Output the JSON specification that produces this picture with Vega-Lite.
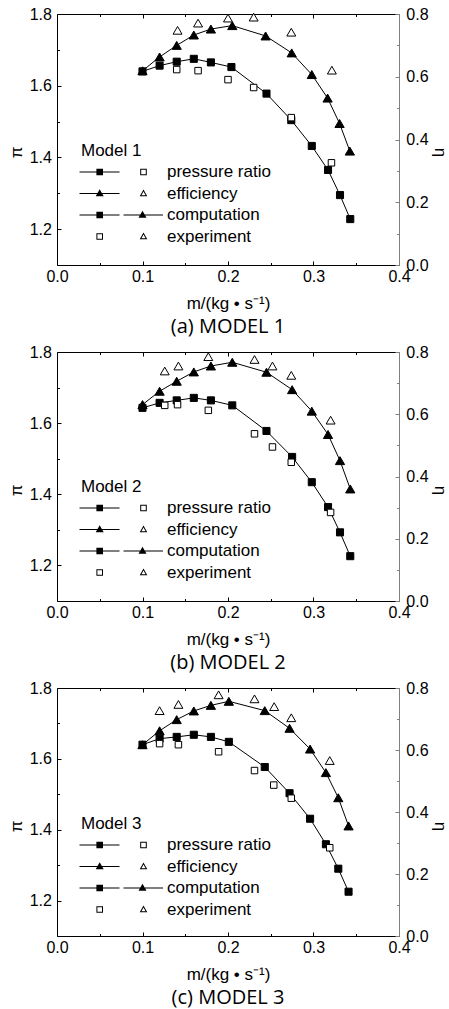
{
  "$schema": "https://vega.github.io/schema/vega-lite/v6.json",
  "background": "white",
  "padding": {"left": 7, "top": 6, "right": 0, "bottom": 0},
  "spacing": 87,
  "bounds": "flush",
  "resolve": {"scale": {"shape": "independent"}, "legend": {"shape": "independent"}},
  "config": {
    "view": {"stroke": null},
    "font": "Liberation Sans",
    "axis": {"labelFont": "Liberation Sans", "labelFontSize": 16, "labelColor": "black", "titleFont": "Liberation Sans", "titleFontSize": 17, "titleFontWeight": "normal", "titleColor": "black", "domainColor": "black", "tickColor": "black", "grid": false, "domainWidth": 1, "tickWidth": 1, "labelFlush": false, "labelOverlap": false},
    "legend": {"orient": "none", "padding": 0, "titleFont": "Liberation Sans", "titleFontSize": 17, "titleFontWeight": "normal", "titleColor": "black", "titlePadding": 2, "labelFont": "Liberation Sans", "labelFontSize": 17, "labelColor": "black", "labelOffset": 66, "symbolSize": 400, "symbolStrokeWidth": 0, "symbolFillColor": "black", "symbolOpacity": 1, "rowPadding": 3.5},
    "title": {"font": "Open Sans", "fontSize": 20, "fontWeight": "normal", "color": "black", "orient": "bottom", "anchor": "middle", "frame": "group", "offset": 5}
  },
  "datasets": {
    "pts": [
      {"model": "Model 1", "q": "pi", "src": "comp", "m": 0.1, "v": 1.640},
      {"model": "Model 1", "q": "pi", "src": "comp", "m": 0.12, "v": 1.656},
      {"model": "Model 1", "q": "pi", "src": "comp", "m": 0.14, "v": 1.667},
      {"model": "Model 1", "q": "pi", "src": "comp", "m": 0.16, "v": 1.675},
      {"model": "Model 1", "q": "pi", "src": "comp", "m": 0.18, "v": 1.665},
      {"model": "Model 1", "q": "pi", "src": "comp", "m": 0.204, "v": 1.652},
      {"model": "Model 1", "q": "pi", "src": "comp", "m": 0.245, "v": 1.578},
      {"model": "Model 1", "q": "pi", "src": "comp", "m": 0.274, "v": 1.504},
      {"model": "Model 1", "q": "pi", "src": "comp", "m": 0.298, "v": 1.432},
      {"model": "Model 1", "q": "pi", "src": "comp", "m": 0.317, "v": 1.365},
      {"model": "Model 1", "q": "pi", "src": "comp", "m": 0.331, "v": 1.295},
      {"model": "Model 1", "q": "pi", "src": "comp", "m": 0.343, "v": 1.228},
      {"model": "Model 1", "q": "eta", "src": "comp", "m": 0.1, "v": 0.619},
      {"model": "Model 1", "q": "eta", "src": "comp", "m": 0.12, "v": 0.663},
      {"model": "Model 1", "q": "eta", "src": "comp", "m": 0.14, "v": 0.700},
      {"model": "Model 1", "q": "eta", "src": "comp", "m": 0.16, "v": 0.733},
      {"model": "Model 1", "q": "eta", "src": "comp", "m": 0.18, "v": 0.752},
      {"model": "Model 1", "q": "eta", "src": "comp", "m": 0.205, "v": 0.763},
      {"model": "Model 1", "q": "eta", "src": "comp", "m": 0.244, "v": 0.730},
      {"model": "Model 1", "q": "eta", "src": "comp", "m": 0.2745, "v": 0.676},
      {"model": "Model 1", "q": "eta", "src": "comp", "m": 0.298, "v": 0.607},
      {"model": "Model 1", "q": "eta", "src": "comp", "m": 0.3165, "v": 0.532},
      {"model": "Model 1", "q": "eta", "src": "comp", "m": 0.3305, "v": 0.451},
      {"model": "Model 1", "q": "eta", "src": "comp", "m": 0.3425, "v": 0.363},
      {"model": "Model 1", "q": "pi", "src": "exp", "m": 0.14, "v": 1.645},
      {"model": "Model 1", "q": "pi", "src": "exp", "m": 0.165, "v": 1.642},
      {"model": "Model 1", "q": "pi", "src": "exp", "m": 0.2, "v": 1.617},
      {"model": "Model 1", "q": "pi", "src": "exp", "m": 0.23, "v": 1.595},
      {"model": "Model 1", "q": "pi", "src": "exp", "m": 0.274, "v": 1.511},
      {"model": "Model 1", "q": "pi", "src": "exp", "m": 0.321, "v": 1.385},
      {"model": "Model 1", "q": "eta", "src": "exp", "m": 0.141, "v": 0.748},
      {"model": "Model 1", "q": "eta", "src": "exp", "m": 0.165, "v": 0.771},
      {"model": "Model 1", "q": "eta", "src": "exp", "m": 0.2, "v": 0.787},
      {"model": "Model 1", "q": "eta", "src": "exp", "m": 0.23, "v": 0.790},
      {"model": "Model 1", "q": "eta", "src": "exp", "m": 0.274, "v": 0.742},
      {"model": "Model 1", "q": "eta", "src": "exp", "m": 0.3215, "v": 0.621},
      {"model": "Model 2", "q": "pi", "src": "comp", "m": 0.1, "v": 1.643},
      {"model": "Model 2", "q": "pi", "src": "comp", "m": 0.12, "v": 1.657},
      {"model": "Model 2", "q": "pi", "src": "comp", "m": 0.14, "v": 1.664},
      {"model": "Model 2", "q": "pi", "src": "comp", "m": 0.16, "v": 1.671},
      {"model": "Model 2", "q": "pi", "src": "comp", "m": 0.18, "v": 1.664},
      {"model": "Model 2", "q": "pi", "src": "comp", "m": 0.205, "v": 1.650},
      {"model": "Model 2", "q": "pi", "src": "comp", "m": 0.245, "v": 1.578},
      {"model": "Model 2", "q": "pi", "src": "comp", "m": 0.275, "v": 1.505},
      {"model": "Model 2", "q": "pi", "src": "comp", "m": 0.298, "v": 1.434},
      {"model": "Model 2", "q": "pi", "src": "comp", "m": 0.317, "v": 1.364},
      {"model": "Model 2", "q": "pi", "src": "comp", "m": 0.331, "v": 1.293},
      {"model": "Model 2", "q": "pi", "src": "comp", "m": 0.343, "v": 1.226},
      {"model": "Model 2", "q": "eta", "src": "comp", "m": 0.1, "v": 0.631},
      {"model": "Model 2", "q": "eta", "src": "comp", "m": 0.12, "v": 0.674},
      {"model": "Model 2", "q": "eta", "src": "comp", "m": 0.14, "v": 0.706},
      {"model": "Model 2", "q": "eta", "src": "comp", "m": 0.16, "v": 0.736},
      {"model": "Model 2", "q": "eta", "src": "comp", "m": 0.18, "v": 0.755},
      {"model": "Model 2", "q": "eta", "src": "comp", "m": 0.205, "v": 0.767},
      {"model": "Model 2", "q": "eta", "src": "comp", "m": 0.245, "v": 0.735},
      {"model": "Model 2", "q": "eta", "src": "comp", "m": 0.275, "v": 0.679},
      {"model": "Model 2", "q": "eta", "src": "comp", "m": 0.298, "v": 0.610},
      {"model": "Model 2", "q": "eta", "src": "comp", "m": 0.317, "v": 0.535},
      {"model": "Model 2", "q": "eta", "src": "comp", "m": 0.331, "v": 0.451},
      {"model": "Model 2", "q": "eta", "src": "comp", "m": 0.343, "v": 0.360},
      {"model": "Model 2", "q": "pi", "src": "exp", "m": 0.126, "v": 1.650},
      {"model": "Model 2", "q": "pi", "src": "exp", "m": 0.141, "v": 1.652},
      {"model": "Model 2", "q": "pi", "src": "exp", "m": 0.177, "v": 1.636},
      {"model": "Model 2", "q": "pi", "src": "exp", "m": 0.231, "v": 1.570},
      {"model": "Model 2", "q": "pi", "src": "exp", "m": 0.252, "v": 1.533},
      {"model": "Model 2", "q": "pi", "src": "exp", "m": 0.274, "v": 1.490},
      {"model": "Model 2", "q": "pi", "src": "exp", "m": 0.320, "v": 1.349},
      {"model": "Model 2", "q": "eta", "src": "exp", "m": 0.126, "v": 0.739},
      {"model": "Model 2", "q": "eta", "src": "exp", "m": 0.142, "v": 0.755},
      {"model": "Model 2", "q": "eta", "src": "exp", "m": 0.177, "v": 0.785},
      {"model": "Model 2", "q": "eta", "src": "exp", "m": 0.231, "v": 0.776},
      {"model": "Model 2", "q": "eta", "src": "exp", "m": 0.252, "v": 0.755},
      {"model": "Model 2", "q": "eta", "src": "exp", "m": 0.274, "v": 0.725},
      {"model": "Model 2", "q": "eta", "src": "exp", "m": 0.320, "v": 0.581},
      {"model": "Model 3", "q": "pi", "src": "comp", "m": 0.1, "v": 1.640},
      {"model": "Model 3", "q": "pi", "src": "comp", "m": 0.12, "v": 1.657},
      {"model": "Model 3", "q": "pi", "src": "comp", "m": 0.14, "v": 1.662},
      {"model": "Model 3", "q": "pi", "src": "comp", "m": 0.16, "v": 1.668},
      {"model": "Model 3", "q": "pi", "src": "comp", "m": 0.18, "v": 1.662},
      {"model": "Model 3", "q": "pi", "src": "comp", "m": 0.201, "v": 1.648},
      {"model": "Model 3", "q": "pi", "src": "comp", "m": 0.243, "v": 1.577},
      {"model": "Model 3", "q": "pi", "src": "comp", "m": 0.272, "v": 1.503},
      {"model": "Model 3", "q": "pi", "src": "comp", "m": 0.296, "v": 1.431},
      {"model": "Model 3", "q": "pi", "src": "comp", "m": 0.3145, "v": 1.359},
      {"model": "Model 3", "q": "pi", "src": "comp", "m": 0.329, "v": 1.290},
      {"model": "Model 3", "q": "pi", "src": "comp", "m": 0.341, "v": 1.225},
      {"model": "Model 3", "q": "eta", "src": "comp", "m": 0.1, "v": 0.617},
      {"model": "Model 3", "q": "eta", "src": "comp", "m": 0.12, "v": 0.662},
      {"model": "Model 3", "q": "eta", "src": "comp", "m": 0.14, "v": 0.698},
      {"model": "Model 3", "q": "eta", "src": "comp", "m": 0.16, "v": 0.726},
      {"model": "Model 3", "q": "eta", "src": "comp", "m": 0.18, "v": 0.744},
      {"model": "Model 3", "q": "eta", "src": "comp", "m": 0.201, "v": 0.757},
      {"model": "Model 3", "q": "eta", "src": "comp", "m": 0.243, "v": 0.727},
      {"model": "Model 3", "q": "eta", "src": "comp", "m": 0.272, "v": 0.670},
      {"model": "Model 3", "q": "eta", "src": "comp", "m": 0.296, "v": 0.603},
      {"model": "Model 3", "q": "eta", "src": "comp", "m": 0.3145, "v": 0.527},
      {"model": "Model 3", "q": "eta", "src": "comp", "m": 0.329, "v": 0.446},
      {"model": "Model 3", "q": "eta", "src": "comp", "m": 0.341, "v": 0.355},
      {"model": "Model 3", "q": "pi", "src": "exp", "m": 0.12, "v": 1.643},
      {"model": "Model 3", "q": "pi", "src": "exp", "m": 0.142, "v": 1.640},
      {"model": "Model 3", "q": "pi", "src": "exp", "m": 0.189, "v": 1.620},
      {"model": "Model 3", "q": "pi", "src": "exp", "m": 0.231, "v": 1.567},
      {"model": "Model 3", "q": "pi", "src": "exp", "m": 0.2535, "v": 1.526},
      {"model": "Model 3", "q": "pi", "src": "exp", "m": 0.274, "v": 1.489},
      {"model": "Model 3", "q": "pi", "src": "exp", "m": 0.319, "v": 1.349},
      {"model": "Model 3", "q": "eta", "src": "exp", "m": 0.12, "v": 0.727},
      {"model": "Model 3", "q": "eta", "src": "exp", "m": 0.142, "v": 0.747},
      {"model": "Model 3", "q": "eta", "src": "exp", "m": 0.189, "v": 0.778},
      {"model": "Model 3", "q": "eta", "src": "exp", "m": 0.231, "v": 0.765},
      {"model": "Model 3", "q": "eta", "src": "exp", "m": 0.254, "v": 0.740},
      {"model": "Model 3", "q": "eta", "src": "exp", "m": 0.274, "v": 0.704},
      {"model": "Model 3", "q": "eta", "src": "exp", "m": 0.319, "v": 0.566}
    ]
  },
  "data": {"name": "pts"},
  "vconcat": [
    {
      "width": 342, "height": 251,
      "title": {"text": "(a) MODEL 1"},
      "transform": [{"filter": "datum.model == 'Model 1'"}],
      "resolve": {"scale": {"y": "independent"}, "axis": {"x": "independent", "y": "independent"}},
      "layer": [
        {"transform": [{"filter": "datum.q == 'pi' && datum.src == 'comp'"}],
         "mark": {"type": "line", "color": "black", "strokeWidth": 1, "point": {"shape": "square", "filled": true, "size": 50, "fill": "black", "stroke": "black", "strokeWidth": 1, "opacity": 1}},
         "encoding": {
           "x": {"field": "m", "type": "quantitative", "scale": {"domain": [0, 0.4], "nice": false, "zero": false}, "axis": {"orient": "bottom", "values": [0, 0.1, 0.2, 0.3, 0.4], "format": ".1f", "tickSize": -4, "labelPadding": 7.5, "title": "m/(kg • s⁻¹)", "titlePadding": 11}},
           "y": {"field": "v", "type": "quantitative", "scale": {"domain": [1.1, 1.8], "nice": false, "zero": false}, "axis": {"orient": "left", "values": [1.2, 1.4, 1.6, 1.8], "format": ".1f", "tickSize": -4, "labelPadding": 9.6, "title": "π", "titlePadding": 3.5, "titleY": 138}}
         }},
        {"transform": [{"filter": "datum.q == 'eta' && datum.src == 'comp'"}],
         "mark": {"type": "line", "color": "black", "strokeWidth": 1, "point": {"shape": "triangle-up", "filled": true, "size": 85, "fill": "black", "stroke": "black", "strokeWidth": 1, "opacity": 1}},
         "encoding": {
           "x": {"field": "m", "type": "quantitative", "scale": {"domain": [0, 0.4], "nice": false, "zero": false}, "axis": {"orient": "top", "values": [0.1, 0.2, 0.3], "labels": false, "tickSize": -4, "title": null}},
           "y": {"field": "v", "type": "quantitative", "scale": {"domain": [0, 0.8], "nice": false, "zero": false}, "axis": {"orient": "right", "values": [0, 0.2, 0.4, 0.6, 0.8], "format": ".1f", "tickSize": -4, "labelPadding": 10.8, "domainColor": "#808080", "tickColor": "#808080", "title": "η", "titlePadding": 2, "titleY": 138}}
         }},
        {"transform": [{"filter": "datum.q == 'pi' && datum.src == 'exp'"}],
         "mark": {"type": "point", "shape": "square", "filled": true, "size": 42, "fill": "white", "stroke": "black", "strokeWidth": 1, "opacity": 1},
         "encoding": {
           "x": {"field": "m", "type": "quantitative", "scale": {"domain": [0, 0.4], "nice": false, "zero": false}, "axis": {"orient": "bottom", "values": [0.05, 0.15, 0.25, 0.35], "labels": false, "domain": false, "tickSize": -2.5, "title": null}},
           "y": {"field": "v", "type": "quantitative", "scale": {"domain": [1.1, 1.8], "nice": false, "zero": false}, "axis": {"orient": "left", "values": [1.3, 1.5, 1.7], "labels": false, "domain": false, "tickSize": -2.5, "title": null}}
         }},
        {"transform": [{"filter": "datum.q == 'eta' && datum.src == 'exp'"}],
         "mark": {"type": "point", "shape": "triangle-up", "filled": true, "size": 80, "fill": "white", "stroke": "black", "strokeWidth": 1, "opacity": 1},
         "encoding": {
           "x": {"field": "m", "type": "quantitative", "scale": {"domain": [0, 0.4], "nice": false, "zero": false}, "axis": {"orient": "top", "values": [0.05, 0.15, 0.25, 0.35], "labels": false, "domain": false, "tickSize": -2.5, "title": null}},
           "y": {"field": "v", "type": "quantitative", "scale": {"domain": [0, 0.8], "nice": false, "zero": false}, "axis": {"orient": "right", "values": [0.1, 0.3, 0.5, 0.7], "labels": false, "domain": false, "tickSize": -2.5, "tickColor": "#808080", "title": null}}
         }},
        {"transform": [{"filter": "false"}],
         "mark": {"type": "point", "filled": true, "fill": "black", "strokeWidth": 0, "opacity": 1},
         "encoding": {
           "shape": {"field": "q", "type": "nominal",
             "scale": {"domain": ["pressure ratio", "efficiency", "computation", "experiment"],
               "range": [
                 "M -1.15 -0.05 L 2.85 -0.05 L 2.85 0.05 L -1.15 0.05 Z M 0.54 -0.33 L 1.2 -0.33 L 1.2 0.33 L 0.54 0.33 Z M 4.92 -0.33 L 5.58 -0.33 L 5.58 0.33 L 4.92 0.33 Z M 5.02 -0.23 L 5.02 0.23 L 5.48 0.23 L 5.48 -0.23 Z",
                 "M -1.15 -0.05 L 2.85 -0.05 L 2.85 0.05 L -1.15 0.05 Z M 0.87 -0.42 L 1.27 0.28 L 0.47 0.28 Z M 5.25 -0.4 L 5.63 0.27 L 4.87 0.27 Z M 5.25 -0.197 L 5.042 0.17 L 5.458 0.17 Z",
                 "M -1.15 -0.05 L 2.85 -0.05 L 2.85 0.05 L -1.15 0.05 Z M 0.54 -0.33 L 1.2 -0.33 L 1.2 0.33 L 0.54 0.33 Z M 3.25 -0.05 L 7.2 -0.05 L 7.2 0.05 L 3.25 0.05 Z M 5.15 -0.42 L 5.55 0.28 L 4.75 0.28 Z",
                 "M 0.54 -0.33 L 1.2 -0.33 L 1.2 0.33 L 0.54 0.33 Z M 0.64 -0.23 L 0.64 0.23 L 1.1 0.23 L 1.1 -0.23 Z M 5.25 -0.4 L 5.63 0.27 L 4.87 0.27 Z M 5.25 -0.197 L 5.042 0.17 L 5.458 0.17 Z"
               ]},
             "legend": {"title": "Model 1", "legendX": 24, "legendY": 129}}
         }}
      ]
    },
    {
      "width": 342, "height": 249,
      "title": {"text": "(b) MODEL 2"},
      "transform": [{"filter": "datum.model == 'Model 2'"}],
      "resolve": {"scale": {"y": "independent"}, "axis": {"x": "independent", "y": "independent"}},
      "layer": [
        {"transform": [{"filter": "datum.q == 'pi' && datum.src == 'comp'"}],
         "mark": {"type": "line", "color": "black", "strokeWidth": 1, "point": {"shape": "square", "filled": true, "size": 50, "fill": "black", "stroke": "black", "strokeWidth": 1, "opacity": 1}},
         "encoding": {
           "x": {"field": "m", "type": "quantitative", "scale": {"domain": [0, 0.4], "nice": false, "zero": false}, "axis": {"orient": "bottom", "values": [0, 0.1, 0.2, 0.3, 0.4], "format": ".1f", "tickSize": -4, "labelPadding": 7.5, "title": "m/(kg • s⁻¹)", "titlePadding": 11}},
           "y": {"field": "v", "type": "quantitative", "scale": {"domain": [1.1, 1.8], "nice": false, "zero": false}, "axis": {"orient": "left", "values": [1.2, 1.4, 1.6, 1.8], "format": ".1f", "tickSize": -4, "labelPadding": 9.6, "title": "π", "titlePadding": 3.5, "titleY": 138}}
         }},
        {"transform": [{"filter": "datum.q == 'eta' && datum.src == 'comp'"}],
         "mark": {"type": "line", "color": "black", "strokeWidth": 1, "point": {"shape": "triangle-up", "filled": true, "size": 85, "fill": "black", "stroke": "black", "strokeWidth": 1, "opacity": 1}},
         "encoding": {
           "x": {"field": "m", "type": "quantitative", "scale": {"domain": [0, 0.4], "nice": false, "zero": false}, "axis": {"orient": "top", "values": [0.1, 0.2, 0.3], "labels": false, "tickSize": -4, "title": null}},
           "y": {"field": "v", "type": "quantitative", "scale": {"domain": [0, 0.8], "nice": false, "zero": false}, "axis": {"orient": "right", "values": [0, 0.2, 0.4, 0.6, 0.8], "format": ".1f", "tickSize": -4, "labelPadding": 10.8, "domainColor": "#808080", "tickColor": "#808080", "title": "η", "titlePadding": 2, "titleY": 138}}
         }},
        {"transform": [{"filter": "datum.q == 'pi' && datum.src == 'exp'"}],
         "mark": {"type": "point", "shape": "square", "filled": true, "size": 42, "fill": "white", "stroke": "black", "strokeWidth": 1, "opacity": 1},
         "encoding": {
           "x": {"field": "m", "type": "quantitative", "scale": {"domain": [0, 0.4], "nice": false, "zero": false}, "axis": {"orient": "bottom", "values": [0.05, 0.15, 0.25, 0.35], "labels": false, "domain": false, "tickSize": -2.5, "title": null}},
           "y": {"field": "v", "type": "quantitative", "scale": {"domain": [1.1, 1.8], "nice": false, "zero": false}, "axis": {"orient": "left", "values": [1.3, 1.5, 1.7], "labels": false, "domain": false, "tickSize": -2.5, "title": null}}
         }},
        {"transform": [{"filter": "datum.q == 'eta' && datum.src == 'exp'"}],
         "mark": {"type": "point", "shape": "triangle-up", "filled": true, "size": 80, "fill": "white", "stroke": "black", "strokeWidth": 1, "opacity": 1},
         "encoding": {
           "x": {"field": "m", "type": "quantitative", "scale": {"domain": [0, 0.4], "nice": false, "zero": false}, "axis": {"orient": "top", "values": [0.05, 0.15, 0.25, 0.35], "labels": false, "domain": false, "tickSize": -2.5, "title": null}},
           "y": {"field": "v", "type": "quantitative", "scale": {"domain": [0, 0.8], "nice": false, "zero": false}, "axis": {"orient": "right", "values": [0.1, 0.3, 0.5, 0.7], "labels": false, "domain": false, "tickSize": -2.5, "tickColor": "#808080", "title": null}}
         }},
        {"transform": [{"filter": "false"}],
         "mark": {"type": "point", "filled": true, "fill": "black", "strokeWidth": 0, "opacity": 1},
         "encoding": {
           "shape": {"field": "q", "type": "nominal",
             "scale": {"domain": ["pressure ratio", "efficiency", "computation", "experiment"],
               "range": [
                 "M -1.15 -0.05 L 2.85 -0.05 L 2.85 0.05 L -1.15 0.05 Z M 0.54 -0.33 L 1.2 -0.33 L 1.2 0.33 L 0.54 0.33 Z M 4.92 -0.33 L 5.58 -0.33 L 5.58 0.33 L 4.92 0.33 Z M 5.02 -0.23 L 5.02 0.23 L 5.48 0.23 L 5.48 -0.23 Z",
                 "M -1.15 -0.05 L 2.85 -0.05 L 2.85 0.05 L -1.15 0.05 Z M 0.87 -0.42 L 1.27 0.28 L 0.47 0.28 Z M 5.25 -0.4 L 5.63 0.27 L 4.87 0.27 Z M 5.25 -0.197 L 5.042 0.17 L 5.458 0.17 Z",
                 "M -1.15 -0.05 L 2.85 -0.05 L 2.85 0.05 L -1.15 0.05 Z M 0.54 -0.33 L 1.2 -0.33 L 1.2 0.33 L 0.54 0.33 Z M 3.25 -0.05 L 7.2 -0.05 L 7.2 0.05 L 3.25 0.05 Z M 5.15 -0.42 L 5.55 0.28 L 4.75 0.28 Z",
                 "M 0.54 -0.33 L 1.2 -0.33 L 1.2 0.33 L 0.54 0.33 Z M 0.64 -0.23 L 0.64 0.23 L 1.1 0.23 L 1.1 -0.23 Z M 5.25 -0.4 L 5.63 0.27 L 4.87 0.27 Z M 5.25 -0.197 L 5.042 0.17 L 5.458 0.17 Z"
               ]},
             "legend": {"title": "Model 2", "legendX": 24, "legendY": 127}}
         }}
      ]
    },
    {
      "width": 342, "height": 248,
      "title": {"text": "(c) MODEL 3"},
      "transform": [{"filter": "datum.model == 'Model 3'"}],
      "resolve": {"scale": {"y": "independent"}, "axis": {"x": "independent", "y": "independent"}},
      "layer": [
        {"transform": [{"filter": "datum.q == 'pi' && datum.src == 'comp'"}],
         "mark": {"type": "line", "color": "black", "strokeWidth": 1, "point": {"shape": "square", "filled": true, "size": 50, "fill": "black", "stroke": "black", "strokeWidth": 1, "opacity": 1}},
         "encoding": {
           "x": {"field": "m", "type": "quantitative", "scale": {"domain": [0, 0.4], "nice": false, "zero": false}, "axis": {"orient": "bottom", "values": [0, 0.1, 0.2, 0.3, 0.4], "format": ".1f", "tickSize": -4, "labelPadding": 7.5, "title": "m/(kg • s⁻¹)", "titlePadding": 11}},
           "y": {"field": "v", "type": "quantitative", "scale": {"domain": [1.1, 1.8], "nice": false, "zero": false}, "axis": {"orient": "left", "values": [1.2, 1.4, 1.6, 1.8], "format": ".1f", "tickSize": -4, "labelPadding": 9.6, "title": "π", "titlePadding": 3.5, "titleY": 138}}
         }},
        {"transform": [{"filter": "datum.q == 'eta' && datum.src == 'comp'"}],
         "mark": {"type": "line", "color": "black", "strokeWidth": 1, "point": {"shape": "triangle-up", "filled": true, "size": 85, "fill": "black", "stroke": "black", "strokeWidth": 1, "opacity": 1}},
         "encoding": {
           "x": {"field": "m", "type": "quantitative", "scale": {"domain": [0, 0.4], "nice": false, "zero": false}, "axis": {"orient": "top", "values": [0.1, 0.2, 0.3], "labels": false, "tickSize": -4, "title": null}},
           "y": {"field": "v", "type": "quantitative", "scale": {"domain": [0, 0.8], "nice": false, "zero": false}, "axis": {"orient": "right", "values": [0, 0.2, 0.4, 0.6, 0.8], "format": ".1f", "tickSize": -4, "labelPadding": 10.8, "domainColor": "#808080", "tickColor": "#808080", "title": "η", "titlePadding": 2, "titleY": 138}}
         }},
        {"transform": [{"filter": "datum.q == 'pi' && datum.src == 'exp'"}],
         "mark": {"type": "point", "shape": "square", "filled": true, "size": 42, "fill": "white", "stroke": "black", "strokeWidth": 1, "opacity": 1},
         "encoding": {
           "x": {"field": "m", "type": "quantitative", "scale": {"domain": [0, 0.4], "nice": false, "zero": false}, "axis": {"orient": "bottom", "values": [0.05, 0.15, 0.25, 0.35], "labels": false, "domain": false, "tickSize": -2.5, "title": null}},
           "y": {"field": "v", "type": "quantitative", "scale": {"domain": [1.1, 1.8], "nice": false, "zero": false}, "axis": {"orient": "left", "values": [1.3, 1.5, 1.7], "labels": false, "domain": false, "tickSize": -2.5, "title": null}}
         }},
        {"transform": [{"filter": "datum.q == 'eta' && datum.src == 'exp'"}],
         "mark": {"type": "point", "shape": "triangle-up", "filled": true, "size": 80, "fill": "white", "stroke": "black", "strokeWidth": 1, "opacity": 1},
         "encoding": {
           "x": {"field": "m", "type": "quantitative", "scale": {"domain": [0, 0.4], "nice": false, "zero": false}, "axis": {"orient": "top", "values": [0.05, 0.15, 0.25, 0.35], "labels": false, "domain": false, "tickSize": -2.5, "title": null}},
           "y": {"field": "v", "type": "quantitative", "scale": {"domain": [0, 0.8], "nice": false, "zero": false}, "axis": {"orient": "right", "values": [0.1, 0.3, 0.5, 0.7], "labels": false, "domain": false, "tickSize": -2.5, "tickColor": "#808080", "title": null}}
         }},
        {"transform": [{"filter": "false"}],
         "mark": {"type": "point", "filled": true, "fill": "black", "strokeWidth": 0, "opacity": 1},
         "encoding": {
           "shape": {"field": "q", "type": "nominal",
             "scale": {"domain": ["pressure ratio", "efficiency", "computation", "experiment"],
               "range": [
                 "M -1.15 -0.05 L 2.85 -0.05 L 2.85 0.05 L -1.15 0.05 Z M 0.54 -0.33 L 1.2 -0.33 L 1.2 0.33 L 0.54 0.33 Z M 4.92 -0.33 L 5.58 -0.33 L 5.58 0.33 L 4.92 0.33 Z M 5.02 -0.23 L 5.02 0.23 L 5.48 0.23 L 5.48 -0.23 Z",
                 "M -1.15 -0.05 L 2.85 -0.05 L 2.85 0.05 L -1.15 0.05 Z M 0.87 -0.42 L 1.27 0.28 L 0.47 0.28 Z M 5.25 -0.4 L 5.63 0.27 L 4.87 0.27 Z M 5.25 -0.197 L 5.042 0.17 L 5.458 0.17 Z",
                 "M -1.15 -0.05 L 2.85 -0.05 L 2.85 0.05 L -1.15 0.05 Z M 0.54 -0.33 L 1.2 -0.33 L 1.2 0.33 L 0.54 0.33 Z M 3.25 -0.05 L 7.2 -0.05 L 7.2 0.05 L 3.25 0.05 Z M 5.15 -0.42 L 5.55 0.28 L 4.75 0.28 Z",
                 "M 0.54 -0.33 L 1.2 -0.33 L 1.2 0.33 L 0.54 0.33 Z M 0.64 -0.23 L 0.64 0.23 L 1.1 0.23 L 1.1 -0.23 Z M 5.25 -0.4 L 5.63 0.27 L 4.87 0.27 Z M 5.25 -0.197 L 5.042 0.17 L 5.458 0.17 Z"
               ]},
             "legend": {"title": "Model 3", "legendX": 24, "legendY": 128}}
         }}
      ]
    }
  ]
}
